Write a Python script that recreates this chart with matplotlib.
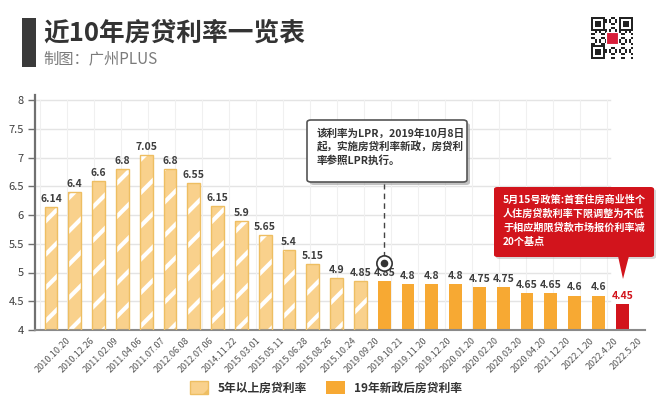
import matplotlib
matplotlib.use("Agg")
import matplotlib.pyplot as plt
from matplotlib.patches import FancyBboxPatch, Rectangle, Polygon, Patch
import matplotlib.transforms as mtransforms
import numpy as np

plt.rcParams['font.family'] = ['Noto Sans CJK SC', 'DejaVu Sans']
plt.rcParams['hatch.linewidth'] = 3.0
plt.rcParams['hatch.color'] = 'white'

# ---------------- data ----------------
dates_old = ['2010.10.20', '2010.12.26', '2011.02.09', '2011.04.06', '2011.07.07',
             '2012.06.08', '2012.07.06', '2014.11.22', '2015.03.01', '2015.05.11',
             '2015.06.28', '2015.08.26', '2015.10.24', '2019.09.20']
rates_old = [6.14, 6.4, 6.6, 6.8, 7.05, 6.8, 6.55, 6.15, 5.9, 5.65, 5.4, 5.15, 4.9, 4.85]

dates_new = ['2019.10.21', '2019.11.20', '2019.12.20', '2020.01.20', '2020.02.20',
             '2020.03.20', '2020.04.20', '2021.12.20', '2022.1.20', '2022.4.20']
rates_new = [4.85, 4.8, 4.8, 4.8, 4.75, 4.75, 4.65, 4.65, 4.6, 4.6]

dates_latest = ['2022.5.20']
rates_latest = [4.45]

yticks = [4, 4.5, 5, 5.5, 6, 6.5, 7, 7.5, 8]
ytick_labels = ['4', '4.5', '5', '5.5', '6', '6.5', '7', '7.5', '8']

legend_labels = ['5年以上房贷利率', '19年新政后房贷利率']
title = '近10年房贷利率一览表'
subtitle = '制图：广州PLUS'
note_lpr = '该利率为LPR，2019年10月8日\n起，实施房贷利率新政，房贷利\n率参照LPR执行。'
note_policy = '5月15号政策:首套住房商业性个\n人住房贷款利率下限调整为不低\n于相应期限贷款市场报价利率减\n20个基点'

# ---------------- style ----------------
C_OLD_FACE = '#F9D18C'
C_OLD_EDGE = '#EEBE62'
C_NEW = '#F7A933'
C_RED = '#D2141C'
C_TEXT = '#3d3d3d'

W, H = 660, 409
fig = plt.figure(figsize=(W / 100, H / 100), dpi=100)
fig.patch.set_facecolor('white')


def fx(x):
    return x / W


def fy(y):
    return 1 - y / H


ax_left, ax_right, ax_top, ax_bottom = 35, 645, 95, 330
ax = fig.add_axes([fx(ax_left), fy(ax_bottom), (ax_right - ax_left) / W,
                   (ax_bottom - ax_top) / H])
ax.set_facecolor('white')

all_dates = dates_old + dates_new + dates_latest
n_old, n_new = len(dates_old), len(dates_new)
x_old = np.arange(n_old)
x_new = np.arange(n_old, n_old + n_new)
x_latest = np.arange(n_old + n_new, len(all_dates))
xall = np.arange(len(all_dates))

ymin, ymax = 4, 8
px_per_unit = (ax_bottom - 100) / (ymax - ymin)
ax.set_ylim(ymin, ymax + (100 - ax_top) / px_per_unit)
spacing = 23.8
first_c = 51
ax.set_xlim(-(first_c - ax_left) / spacing, (ax_right - first_c) / spacing)

# background grid (grid-paper look)
grid_right_frac = (610 - ax_left) / (ax_right - ax_left)
for yv in yticks[1:]:
    ax.axhline(yv, xmin=0, xmax=grid_right_frac, color='#E4E4E4', lw=1, zorder=0)
top_frac = (ax_bottom - 100) / (ax_bottom - ax_top)
for px in range(40, 611, 27):
    f = (px - ax_left) / (ax_right - ax_left)
    ax.plot([f, f], [0, top_frac], transform=ax.transAxes, color='#F0F0F0',
            lw=0.8, zorder=0)

bw = 0.53
bottom = ymin
# old (hatched) bars
ax.bar(x_old, np.array(rates_old) - bottom, bottom=bottom, width=bw,
       color=C_OLD_FACE, edgecolor='white', hatch='/', linewidth=0, zorder=2)
ax.bar(x_old, np.array(rates_old) - bottom, bottom=bottom, width=bw,
       fill=False, edgecolor=C_OLD_EDGE, linewidth=1.0, zorder=3)
# new bars
ax.bar(x_new, np.array(rates_new) - bottom, bottom=bottom, width=bw,
       color=C_NEW, linewidth=0, zorder=2)
ax.bar(x_latest, np.array(rates_latest) - bottom, bottom=bottom, width=bw,
       color=C_RED, linewidth=0, zorder=2)

# value labels
lab_off = mtransforms.offset_copy(ax.transData, fig=fig, x=0, y=3, units='dots')
for xs, ys, col in [(x_old, rates_old, C_TEXT), (x_new, rates_new, C_TEXT),
                    (x_latest, rates_latest, C_RED)]:
    for xv, yv in zip(xs, ys):
        ax.text(xv, yv, f'{yv:g}', ha='center', va='bottom', fontsize=7.5,
                fontweight='bold', color=col, transform=lab_off, zorder=5)

# axes styling
for s in ['top', 'right']:
    ax.spines[s].set_visible(False)
ax.spines['left'].set_color('#707070')
ax.spines['left'].set_linewidth(1.6)
ax.spines['bottom'].set_color('#8a8a8a')
ax.spines['bottom'].set_linewidth(1.5)
ax.set_yticks(yticks)
ax.set_yticklabels(ytick_labels, fontsize=8, color=C_TEXT)
ax.tick_params(axis='y', length=5, width=1, color='#707070', pad=3)
ax.set_xticks(xall)
ax.set_xticklabels([])
ax.tick_params(axis='x', length=0)

# rotated x labels
xl_tr = mtransforms.offset_copy(ax.transData, fig=fig, x=15, y=-6, units='dots')
for xv, d in zip(xall, all_dates):
    ax.text(xv, ymin, d, rotation=45, rotation_mode='anchor', ha='right',
            va='top', fontsize=6.5, color='#555555', transform=xl_tr,
            clip_on=False)

# LPR callout: dashed leader + circle marker
lpr_idx = x_new[0]
circle_y = 4 + (330 - 263) / px_per_unit
box_bottom_y = 4 + (330 - 182) / px_per_unit
ax.plot([lpr_idx, lpr_idx], [circle_y + 0.1, box_bottom_y], ls=(0, (4, 3)),
        color='#444444', lw=1, zorder=4, clip_on=False)
ax.plot([lpr_idx], [circle_y], marker='o', ms=11, mfc='white', mec='#333333',
        mew=1.2, zorder=6, clip_on=False)
ax.plot([lpr_idx], [circle_y], marker='o', ms=5.5, mfc='#333333', mec='none',
        zorder=7, clip_on=False)

# LPR note box (figure coordinates)
bx0, by0, bx1, by1 = 307, 120, 467, 182
shadow = FancyBboxPatch((fx(bx0 + 3), fy(by1 + 3)), fx(bx1 - bx0), (by1 - by0) / H,
                        boxstyle='round,pad=0,rounding_size=0.006',
                        transform=fig.transFigure, facecolor='#9a9a9a',
                        edgecolor='none', alpha=0.6, zorder=8)
box = FancyBboxPatch((fx(bx0), fy(by1)), fx(bx1 - bx0), (by1 - by0) / H,
                     boxstyle='round,pad=0,rounding_size=0.006',
                     transform=fig.transFigure, facecolor='white',
                     edgecolor='#555555', lw=1.2, zorder=9)
fig.patches.extend([shadow, box])
fig.text(fx(317), fy(128), note_lpr, ha='left', va='top', fontsize=7.6,
         fontweight='bold', color='#333333', linespacing=1.35, zorder=10)

# red policy box
rx0, ry0, rx1, ry1 = 494, 187, 654, 257
rshadow = FancyBboxPatch((fx(rx0 + 2), fy(ry1 + 2)), fx(rx1 - rx0), (ry1 - ry0) / H,
                         boxstyle='round,pad=0,rounding_size=0.005',
                         transform=fig.transFigure, facecolor='#b0b0b0',
                         edgecolor='none', alpha=0.5, zorder=8)
rbox = FancyBboxPatch((fx(rx0), fy(ry1)), fx(rx1 - rx0), (ry1 - ry0) / H,
                      boxstyle='round,pad=0,rounding_size=0.005',
                      transform=fig.transFigure, facecolor=C_RED,
                      edgecolor='none', zorder=9)
tip_x = 623
tri = Polygon([(fx(tip_x - 5), fy(ry1 - 1)), (fx(tip_x + 6), fy(ry1 - 1)),
               (fx(tip_x), fy(279))], closed=True, transform=fig.transFigure,
              facecolor=C_RED, edgecolor='none', zorder=9)
fig.patches.extend([rshadow, rbox, tri])
fig.text(fx(503), fy(194), note_policy, ha='left', va='top', fontsize=7.25,
         fontweight='bold', color='white', linespacing=1.5, zorder=10)

# title block
fig.patches.append(Rectangle((fx(22), fy(67)), fx(14), 49 / H,
                             transform=fig.transFigure, facecolor='#3a3a3a',
                             edgecolor='none'))
fig.text(fx(43), fy(33), title, ha='left', va='center', fontsize=18.5,
         fontweight='bold', color='#333333')
fig.text(fx(43), fy(59), subtitle, ha='left', va='center', fontsize=11,
         color='#7a7a7a')

# QR-code-like decoration (top right)
qx0, qy0, qs = 591, 17, 42
n = 21
cell = qs / n
fig.patches.append(Rectangle((fx(qx0 - 2), fy(qy0 + qs + 2)), fx(qs + 4), (qs + 4) / H,
                             transform=fig.transFigure, facecolor='white',
                             edgecolor='none'))
for i in range(n):
    for j in range(n):
        in_finder = (i < 7 and j < 7) or (i < 7 and j >= n - 7) or (i >= n - 7 and j < 7)
        if in_finder:
            ii = i if i < 7 else i - (n - 7)
            jj = j if j < 7 else j - (n - 7)
            on = (ii in (0, 6) or jj in (0, 6)) or (2 <= ii <= 4 and 2 <= jj <= 4)
        else:
            on = ((i * 7 + j * 11 + i * j) % 5) < 2
        if on:
            fig.patches.append(Rectangle((fx(qx0 + j * cell), fy(qy0 + (i + 1) * cell)),
                                         fx(cell), cell / H,
                                         transform=fig.transFigure,
                                         facecolor='#222222', edgecolor='none'))
fig.patches.append(Rectangle((fx(qx0 + qs / 2 - 6), fy(qy0 + qs / 2 + 6)), fx(12), 12 / H,
                             transform=fig.transFigure, facecolor='#D81E3A',
                             edgecolor='white', lw=0.8))

# legend
handles = [Patch(facecolor=C_OLD_FACE, edgecolor=C_OLD_EDGE, hatch='/', lw=1),
           Patch(facecolor=C_NEW, edgecolor='none')]
leg = fig.legend(handles, legend_labels, loc='center', bbox_to_anchor=(fx(326), fy(388)),
                 ncol=2, frameon=False, handlelength=1.6,
                 handleheight=1.2, columnspacing=1.6, handletextpad=0.8,
                 prop={'weight': 'bold', 'size': 8.5})
for t in leg.get_texts():
    t.set_color('#333333')

fig.savefig('out.png', dpi=100, facecolor='white')
